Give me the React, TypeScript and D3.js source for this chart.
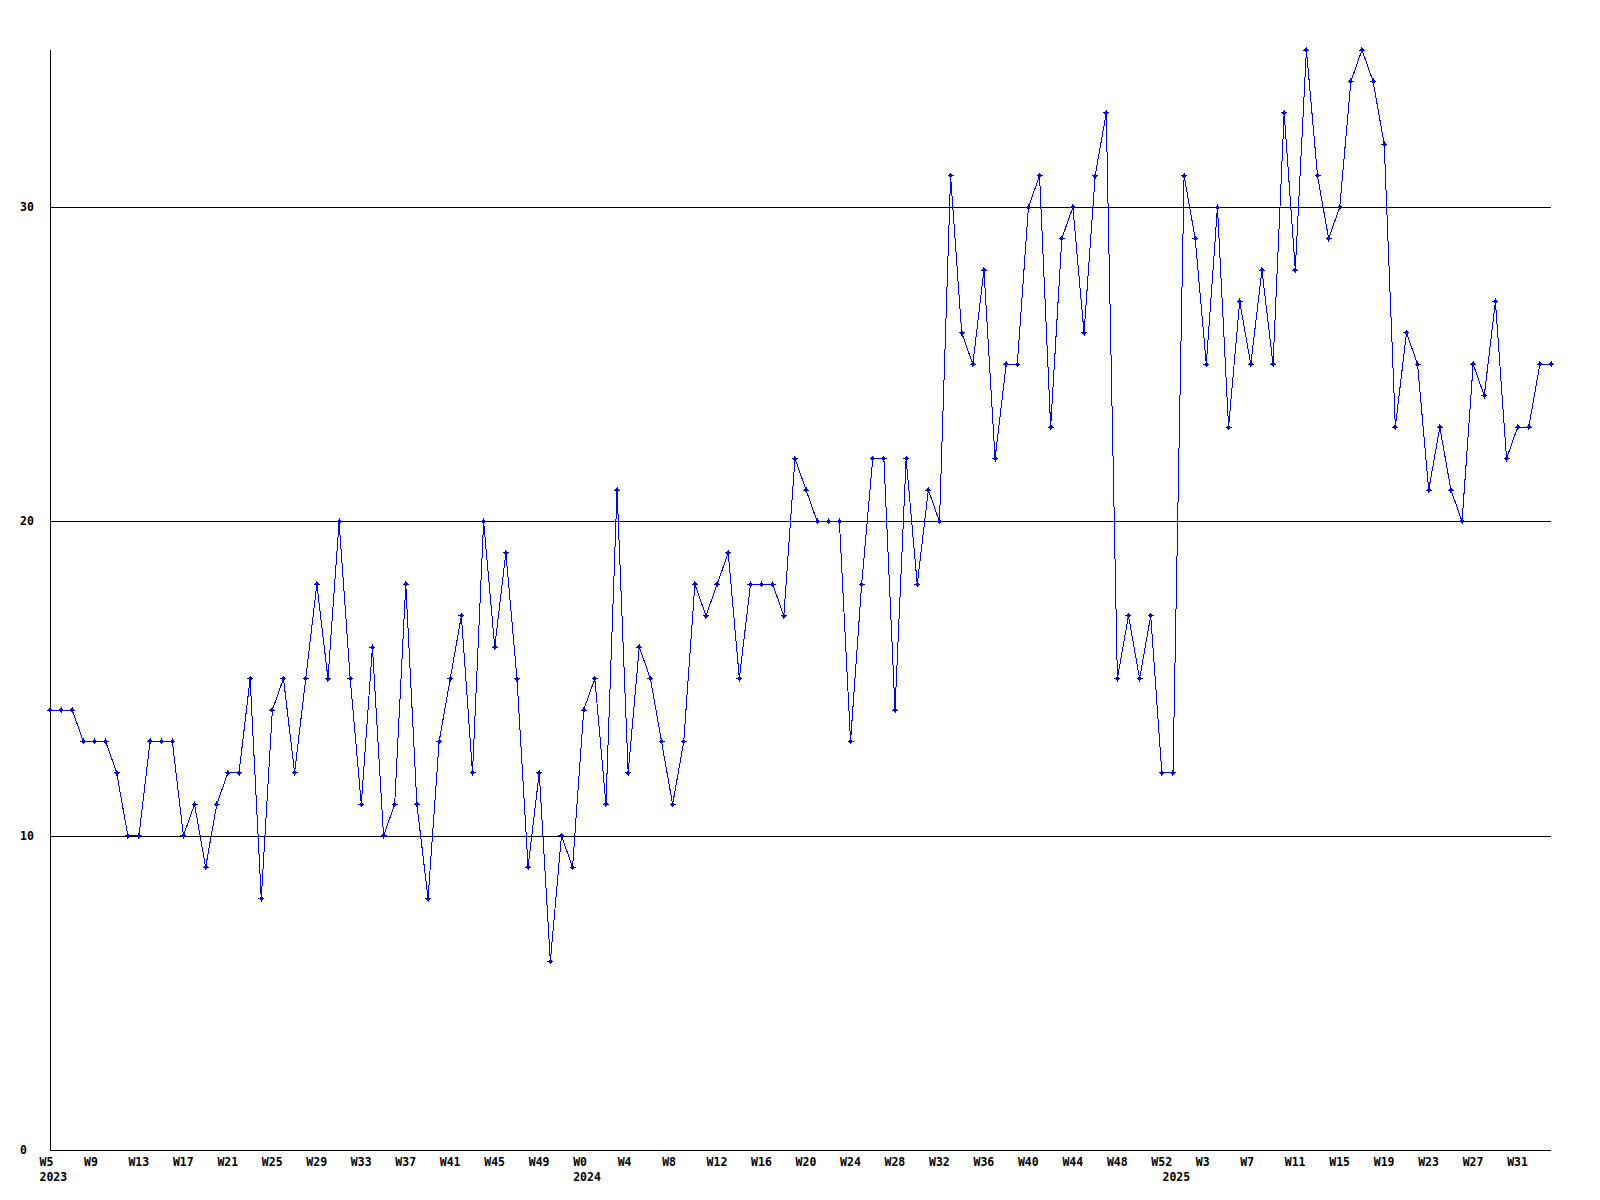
import React from "react";
import * as d3 from "d3";

// Weekly values
const values2023 = [14,14,14,13,13,13,12,10,10,13,13,13,10,11,9,11,12,12,15,8,14,15,12,15,18,15,20,15,11,16,10,11,18,11,8,13,15,17,12,20,16,19,15,9,12,6,10,9];
const values2024 = [14,15,11,21,12,16,15,13,11,13,18,17,18,19,15,18,18,18,17,22,21,20,20,20,13,18,22,22,14,22,18,21,20,31,26,25,28,22,25,25,30,31,23,29,30,26,31,33,15,17,15,17,12];
const values2025 = [12,31,29,25,30,23,27,25,28,25,33,28,35,31,29,30,34,35,34,32,23,26,25,21,23,21,20,25,24,27,22,23,23,25,25];

const firstWeek2023 = 5;
const firstWeek2024 = 0;
const firstWeek2025 = 0;
const years = ["2023", "2024", "2025"];
const yTicks = [0, 10, 20, 30];
const yMax = 35;
const tickEvery = 4;

type Pt = { week: string; year: string; value: number; yearStart: boolean };

const series: { year: string; start: number; values: number[] }[] = [
  { year: years[0], start: firstWeek2023, values: values2023 },
  { year: years[1], start: firstWeek2024, values: values2024 },
  { year: years[2], start: firstWeek2025, values: values2025 },
];

const points: Pt[] = [];
series.forEach((s) => {
  s.values.forEach((v, i) => {
    points.push({ week: "W" + (s.start + i), year: s.year, value: v, yearStart: i === 0 });
  });
});

export default function App() {
  const W = 1600;
  const H = 1200;
  const left = 50;
  const right = 1551;
  const top = 50;
  const bottom = 1150;

  const x = d3.scaleLinear().domain([0, points.length - 1]).range([left, right]);
  const y = d3.scaleLinear().domain([0, yMax]).range([bottom, top]);

  const line = d3
    .line<Pt>()
    .x((_, i) => x(i))
    .y((d) => y(d.value));

  const font = "'DejaVu Sans Mono', monospace";
  const cw = 7;

  return (
    <svg
      width={W}
      height={H}
      style={{ position: "absolute", left: 0, top: 0, background: "#fff" }}
      fontFamily={font}
      fontWeight="bold"
      fontSize={11.5}
    >
      <rect x={0} y={0} width={W} height={H} fill="#fff" />
      {/* grid lines */}
      {yTicks
        .filter((t) => t > 0)
        .map((t) => (
          <line
            key={"g" + t}
            x1={left}
            x2={right}
            y1={Math.round(y(t)) + 0.5}
            y2={Math.round(y(t)) + 0.5}
            stroke="#000"
            strokeWidth={1}
            shapeRendering="crispEdges"
          />
        ))}
      {/* axes */}
      <line x1={left + 0.5} x2={left + 0.5} y1={top} y2={bottom + 0.5} stroke="#000" shapeRendering="crispEdges" />
      <line x1={left} x2={right} y1={bottom + 0.5} y2={bottom + 0.5} stroke="#000" shapeRendering="crispEdges" />

      {/* y labels */}
      {yTicks.map((t) => (
        <text key={"y" + t} x={20} y={Math.round(y(t)) + 4} fill="#000">
          {t}
        </text>
      ))}

      {/* x labels */}
      {points.map((p, i) =>
        i % tickEvery === 0 ? (
          <text key={"x" + i} x={x(i) - 1.5 * cw} y={1166} fill="#000">
            {p.week}
          </text>
        ) : null
      )}
      {points.map((p, i) =>
        p.yearStart ? (
          <text key={"yr" + i} x={x(i) - 1.5 * cw} y={1181} fill="#000">
            {p.year}
          </text>
        ) : null
      )}

      {/* data line */}
      <path d={line(points) || ""} fill="none" stroke="#0000ff" strokeWidth={1} shapeRendering="crispEdges" />
      {points.map((p, i) => {
        const cx = x(i);
        const cy = y(p.value);
        return (
          <g key={"m" + i} shapeRendering="crispEdges">
            <path
              d={`M${cx - 2.5},${cy}L${cx},${cy - 2.5}L${cx + 2.5},${cy}L${cx},${cy + 2.5}Z`}
              fill="#0000ff"
            />
            <line x1={cx - 3} x2={cx + 3} y1={cy} y2={cy} stroke="#0000ff" />
            <line x1={cx} x2={cx} y1={cy - 3} y2={cy + 3} stroke="#0000ff" />
          </g>
        );
      })}
    </svg>
  );
}
